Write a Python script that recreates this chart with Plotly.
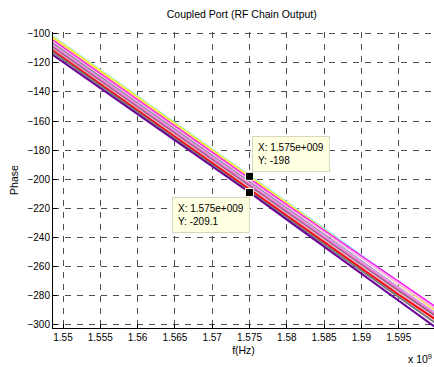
import plotly.graph_objects as go

# Frequency grid (Hz)
freq = [1.545e9, 1.550e9, 1.555e9, 1.560e9, 1.565e9, 1.570e9,
        1.575e9, 1.580e9, 1.585e9, 1.590e9, 1.595e9, 1.600e9]

# Phase traces (degrees), drawn top to bottom
cyan     = [-88.6, -106.7, -124.8, -142.8, -160.9, -179.0, -197.2, -215.6, -233.9, -252.3, -270.6, -289.0]
yellow   = [-89.4, -107.5, -125.6, -143.6, -161.7, -179.8, -198.0, -216.4, -234.8, -253.2, -271.6, -290.0]
peach    = [-90.2, -108.3, -126.4, -144.4, -162.5, -180.6, -198.8, -217.0, -235.0, -253.1, -271.2, -289.5]
magenta  = [-91.6, -109.7, -127.8, -145.8, -163.9, -182.0, -200.2, -217.9, -235.4, -253.0, -270.4, -288.0]
ltpink   = [-92.6, -110.7, -128.8, -146.8, -164.9, -183.0, -201.2, -218.8, -236.3, -253.8, -271.2, -289.0]
gray     = [-93.8, -111.8, -129.9, -147.8, -165.9, -184.0, -202.2, -220.3, -238.3, -256.4, -274.4, -292.5]
lavender = [-94.6, -112.7, -130.8, -148.8, -166.9, -185.0, -203.2, -221.0, -238.8, -256.7, -274.5, -292.0]
hotpink  = [-95.6, -113.7, -131.8, -149.8, -167.9, -186.0, -204.2, -222.1, -240.1, -258.0, -275.9, -293.5]
dkgray   = [-96.6, -114.7, -132.8, -150.8, -168.9, -187.0, -205.2, -223.1, -241.1, -259.0, -276.9, -294.5]
pink     = [-97.6, -115.7, -133.8, -151.8, -169.9, -188.0, -206.2, -224.1, -242.1, -260.0, -277.9, -295.5]
red      = [-98.6, -116.7, -134.8, -152.8, -170.9, -189.0, -207.2, -225.2, -243.2, -261.3, -279.3, -296.5]
gray2    = [-99.6, -117.7, -135.8, -153.8, -171.9, -190.0, -208.2, -226.4, -244.5, -262.7, -280.8, -299.0]
purple   = [-101.6, -119.5, -137.3, -155.1, -173.0, -191.0, -209.1, -227.7, -246.2, -264.8, -283.3, -301.9]

series = [
    (cyan, "#8FE8FF"), (yellow, "#FFFF00"), (peach, "#FFCC80"), (magenta, "#FF00FF"),
    (ltpink, "#FFB3E6"), (gray, "#808080"), (lavender, "#D9A6F2"), (hotpink, "#FF66CC"),
    (dkgray, "#6E6E6E"), (pink, "#FFA6D2"), (red, "#FF0000"), (gray2, "#7A7A7A"),
    (purple, "#6B0099"),
]

# Data cursors
tip_x = [1.575e9, 1.575e9]
tip_y = [-198.0, -209.1]

x_ticks = [1.550e9, 1.555e9, 1.560e9, 1.565e9, 1.570e9, 1.575e9, 1.580e9, 1.585e9, 1.590e9, 1.595e9]
x_labels = ["1.55", "1.555", "1.56", "1.565", "1.57", "1.575", "1.58", "1.585", "1.59", "1.595"]
y_ticks = [-100, -120, -140, -160, -180, -200, -220, -240, -260, -280, -300]

fig = go.Figure()
for vals, col in series:
    fig.add_trace(go.Scatter(x=freq, y=vals, mode="lines",
                             line=dict(color=col, width=2), showlegend=False))

fig.add_trace(go.Scatter(x=tip_x, y=tip_y, mode="markers",
                         marker=dict(symbol="square", size=8, color="black",
                                     line=dict(color="#FFFFE0", width=1)),
                         showlegend=False))

font = "Liberation Sans, Arial, Helvetica, sans-serif"
fig.update_layout(
    width=434, height=367,
    margin=dict(l=53, r=0, t=32, b=39),
    paper_bgcolor="white", plot_bgcolor="white",
    font=dict(family=font, size=10, color="black"),
    title=dict(text="Coupled Port (RF Chain Output)", x=0.557, xanchor="center",
               y=0.96, yanchor="middle", font=dict(size=10.5)),
)
fig.update_xaxes(
    range=[1.54866e9, 1.59973e9], tickvals=x_ticks, ticktext=x_labels,
    showline=True, linecolor="black", linewidth=1, mirror=False,
    ticks="inside", ticklen=4, tickcolor="black",
    showgrid=True, gridcolor="#505050", gridwidth=1, griddash="6px,6px",
    zeroline=False,
    title=dict(text="f(Hz)", standoff=4, font=dict(size=10.5)),
)
fig.update_yaxes(
    range=[-302.1, -98.9], tickvals=y_ticks,
    showline=True, linecolor="black", linewidth=1, mirror=False,
    ticks="inside", ticklen=4, tickcolor="black",
    showgrid=True, gridcolor="#505050", gridwidth=1, griddash="6px,6px",
    zeroline=False,
    title=dict(text="Phase", standoff=6, font=dict(size=10.5)),
)

fig.add_annotation(x=tip_x[0], y=tip_y[0], xref="x", yref="y",
                   text="X: 1.575e+009<br>Y: -198", align="left",
                   showarrow=False, xanchor="left", yanchor="bottom",
                   xshift=2, yshift=4,
                   bgcolor="#FFFFE1", bordercolor="#D8D6BC", borderwidth=1, borderpad=5,
                   font=dict(size=10))
fig.add_annotation(x=tip_x[1], y=tip_y[1], xref="x", yref="y",
                   text="X: 1.575e+009<br>Y: -209.1", align="left",
                   showarrow=False, xanchor="right", yanchor="top",
                   xshift=0, yshift=-4,
                   bgcolor="#FFFFE1", bordercolor="#D8D6BC", borderwidth=1, borderpad=5,
                   font=dict(size=10))
fig.add_annotation(x=1, y=0, xref="paper", yref="paper",
                   text="x 10<sup>9</sup>", showarrow=False,
                   xanchor="right", yanchor="top", yshift=-22, xshift=0,
                   font=dict(size=10.5))

fig.write_html("out.html")
